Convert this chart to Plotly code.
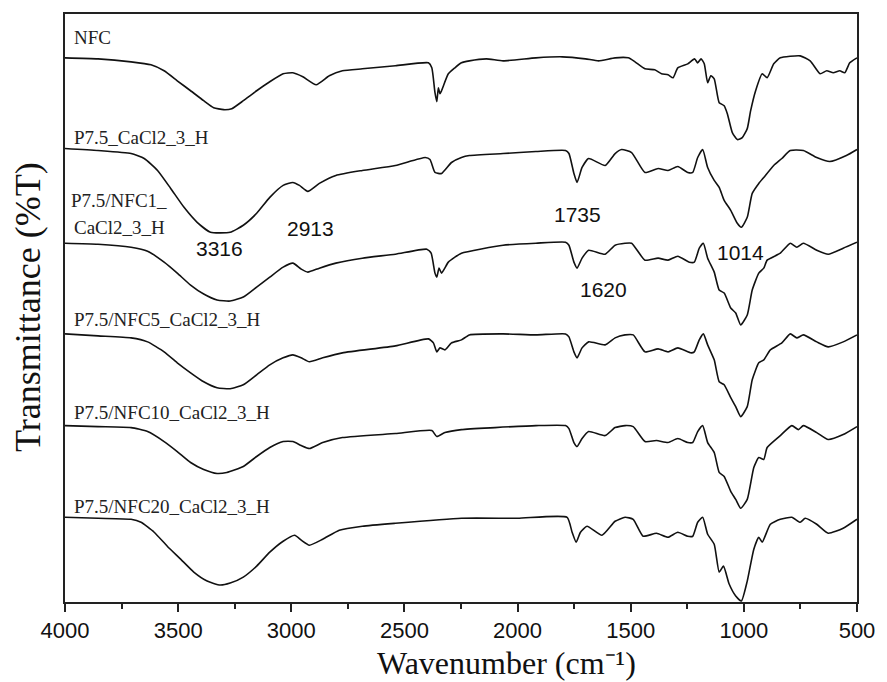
import plotly.graph_objects as go

# ---- data (stacked transmittance, arbitrary units) ----
names = ["NFC", "P7.5_CaCl2_3_H", "P7.5/NFC1_CaCl2_3_H", "P7.5/NFC5_CaCl2_3_H",
         "P7.5/NFC10_CaCl2_3_H", "P7.5/NFC20_CaCl2_3_H"]

wn_nfc = [4000, 3854, 3708, 3620, 3562, 3504, 3445, 3387, 3343, 3299, 3263, 3212, 3153, 3095, 3036, 2993,
          2949, 2890, 2832, 2774, 2686, 2540, 2394, 2379, 2365, 2357, 2350, 2343, 2336, 2306, 2277, 2248,
          2213, 2138, 2064, 1919, 1802, 1700, 1642, 1569, 1511, 1481, 1437, 1394, 1364, 1335, 1313, 1292,
          1248, 1218, 1204, 1189, 1175, 1160, 1146, 1131, 1109, 1087, 1073, 1051, 1029, 1007, 985, 970,
          948, 919, 897, 868, 839, 751, 707, 663, 634, 605, 576, 554, 532, 500]
t_nfc = [545, 544, 541, 538, 532, 522, 512, 502, 495, 493, 494, 502, 512, 521, 529, 530,
         526, 518, 527, 532, 534, 537, 540, 535, 510, 501, 515, 509, 512, 529, 535, 540,
         542, 544, 542, 545, 546, 544, 542, 545, 545, 541, 534, 533, 529, 528, 525, 535,
         539, 544, 540, 544, 539, 520, 527, 524, 500, 497, 489, 470, 463, 465, 474, 492,
         512, 529, 525, 539, 545, 547, 542, 529, 532, 530, 532, 530, 540, 545]

wn_p75 = [4000, 3854, 3708, 3650, 3591, 3533, 3474, 3416, 3357, 3270, 3212, 3153, 3095, 3036, 2993, 2964,
          2927, 2876, 2803, 2686, 2540, 2408, 2387, 2365, 2336, 2292, 2248, 2213, 2064, 1919, 1788, 1773,
          1751, 1737, 1715, 1686, 1613, 1569, 1540, 1496, 1437, 1379, 1335, 1292, 1248, 1226, 1204, 1182,
          1160, 1131, 1109, 1087, 1058, 1029, 1011, 985, 963, 934, 912, 868, 832, 795, 737, 678, 620, 547, 500]
t_p75 = [454, 452, 449, 444, 432, 414, 395, 380, 370, 370, 377, 389, 405, 417, 420, 417,
         411, 419, 427, 432, 437, 445, 443, 430, 429, 440, 445, 447, 449, 451, 452, 449,
         429, 420, 435, 444, 437, 449, 453, 450, 430, 434, 432, 436, 430, 430, 445, 453,
         435, 422, 415, 402, 392, 379, 375, 385, 409, 419, 425, 437, 444, 452, 452, 445, 441, 447, 453]

wn_n1 = [4000, 3854, 3708, 3635, 3562, 3504, 3445, 3387, 3328, 3270, 3212, 3153, 3095, 3036, 2993, 2956,
         2927, 2876, 2803, 2686, 2540, 2401, 2382, 2365, 2357, 2347, 2336, 2306, 2277, 2248, 2064, 1919,
         1788, 1773, 1751, 1737, 1715, 1686, 1613, 1569, 1525, 1496, 1437, 1379, 1335, 1292, 1241, 1219,
         1197, 1179, 1160, 1131, 1109, 1087, 1058, 1036, 1014, 985, 963, 934, 912, 897, 839, 795, 766,
         737, 678, 627, 561, 500]
t_n1 = [359, 358, 355, 351, 340, 329, 317, 308, 302, 301, 305, 315, 325, 335, 339, 333,
        330, 334, 339, 344, 348, 353, 349, 329, 325, 334, 329, 340, 345, 349, 357, 359,
        360, 357, 340, 334, 344, 352, 348, 357, 359, 359, 342, 344, 342, 346, 340, 340,
        354, 359, 344, 330, 312, 309, 294, 289, 277, 287, 312, 329, 334, 342, 349, 359, 355,
        359, 352, 348, 354, 360]

wn_n5 = [4000, 3854, 3708, 3635, 3562, 3504, 3445, 3387, 3328, 3270, 3212, 3153, 3095, 3036, 2993, 2956,
         2920, 2861, 2774, 2540, 2394, 2372, 2357, 2343, 2321, 2292, 2248, 2213, 2064, 1919, 1788, 1773,
         1751, 1737, 1715, 1686, 1613, 1569, 1525, 1489, 1437, 1379, 1335, 1292, 1233, 1219, 1197, 1179,
         1160, 1131, 1109, 1087, 1058, 1036, 1014, 985, 963, 934, 912, 883, 832, 795, 766, 737, 678,
         627, 561, 500]
t_n5 = [268, 266, 264, 260, 250, 239, 229, 220, 214, 213, 217, 227, 237, 244, 247, 244,
        240, 244, 249, 256, 263, 259, 250, 254, 252, 259, 262, 267, 268, 267, 268, 265,
        250, 244, 254, 260, 257, 264, 267, 267, 250, 253, 250, 254, 249, 250, 262, 268,
        257, 242, 220, 217, 204, 195, 185, 195, 222, 239, 242, 252, 259, 268, 264, 267, 260,
        255, 260, 267]

wn_n10 = [4000, 3854, 3708, 3635, 3562, 3504, 3445, 3387, 3328, 3285, 3212, 3153, 3095, 3036, 2993, 2956,
          2920, 2861, 2774, 2540, 2379, 2357, 2321, 2248, 2100, 1919, 1788, 1773, 1751, 1737, 1715, 1686,
          1613, 1569, 1525, 1489, 1437, 1386, 1335, 1292, 1248, 1226, 1204, 1182, 1160, 1131, 1109, 1087,
          1058, 1036, 1014, 985, 956, 934, 912, 897, 839, 788, 759, 737, 678, 627, 561, 500]
t_n10 = [176, 175, 174, 170, 160, 150, 139, 132, 128, 129, 135, 145, 154, 160, 160, 156,
         153, 159, 164, 168, 171, 165, 169, 172, 174, 176, 176, 173, 159, 155, 163, 170,
         166, 174, 176, 175, 160, 161, 159, 163, 159, 159, 170, 176, 159, 149, 129, 125,
         110, 102, 93, 102, 134, 144, 142, 154, 166, 176, 172, 176, 169, 162, 167, 175]

wn_n20 = [4000, 3854, 3708, 3664, 3606, 3548, 3489, 3431, 3372, 3314, 3270, 3212, 3153, 3095, 3036, 2985,
          2956, 2920, 2861, 2788, 2686, 2540, 2248, 2000, 1781, 1759, 1741, 1722, 1693, 1627, 1569, 1525,
          1489, 1445, 1386, 1335, 1292, 1248, 1226, 1204, 1182, 1160, 1131, 1109, 1090, 1065, 1036, 1011,
          985, 956, 934, 919, 883, 839, 788, 751, 729, 678, 627, 561, 500]
t_n20 = [84, 83, 82, 79, 69, 55, 42, 29, 20, 16, 18, 24, 35, 49, 60, 66,
         61, 56, 62, 71, 75, 78, 83, 83, 84, 69, 59, 69, 75, 66, 80, 84,
         82, 65, 68, 64, 69, 65, 65, 79, 84, 67, 57, 29, 35, 17, 5, 0,
         20, 52, 64, 59, 77, 82, 84, 79, 83, 77, 68, 73, 82]

series_x = [wn_nfc, wn_p75, wn_n1, wn_n5, wn_n10, wn_n20]
series_y = [t_nfc, t_p75, t_n1, t_n5, t_n10, t_n20]

# sample-name labels and the level (a.u.) at which each line of text sits
label_lines = [["NFC"], ["P7.5_CaCl2_3_H"], ["P7.5/NFC1_", "CaCl2_3_H"], ["P7.5/NFC5_CaCl2_3_H"],
               ["P7.5/NFC10_CaCl2_3_H"], ["P7.5/NFC20_CaCl2_3_H"]]
label_levels = [[565], [465], [402, 375], [282], [189], [95]]

peak_wn = [3316, 2913, 1735, 1620, 1014]
peak_level = [354, 374, 388, 313, 350]

fig = go.Figure()
for n, xs, ys in zip(names, series_x, series_y):
    fig.add_trace(go.Scatter(x=xs, y=ys, mode="lines", name=n,
                             line=dict(color="#111111", width=1.6, shape="spline", smoothing=0.5),
                             showlegend=False))

serif = "Liberation Serif, Times New Roman, serif"
sans = "Liberation Sans, Arial, sans-serif"

annotations = []
for lines, levels in zip(label_lines, label_levels):
    for i, (txt, lv) in enumerate(zip(lines, levels)):
        annotations.append(dict(x=0.005 if (len(lines) > 1 and i == 0) else 0.009, xref="paper",
                                y=lv, yref="y", text=txt, showarrow=False, xanchor="left",
                                yanchor="middle", font=dict(family=serif, size=19, color="#222222")))
for w, lv in zip(peak_wn, peak_level):
    annotations.append(dict(x=w, y=lv, xref="x", yref="y", text=str(w), showarrow=False,
                            xanchor="center", yanchor="middle",
                            font=dict(family=sans, size=21, color="#111111")))
annotations.append(dict(x=0.558, y=-0.104, xref="paper", yref="paper",
                        text="Wavenumber (cm\u207b\u00b9)", showarrow=False,
                        xanchor="center", yanchor="middle",
                        font=dict(family=serif, size=32, color="#111111")))
annotations.append(dict(x=-0.046, y=0.501, xref="paper", yref="paper", textangle=-90,
                        text="Transmittance (%T)", showarrow=False,
                        xanchor="center", yanchor="middle",
                        font=dict(family=serif, size=36, color="#111111")))

fig.update_layout(
    width=887, height=682,
    margin=dict(l=65, r=23, t=13, b=80),
    paper_bgcolor="white", plot_bgcolor="white",
    annotations=annotations,
    xaxis=dict(range=[4000, 500], tickmode="array", tickvals=[4000, 3500, 3000, 2500, 2000, 1500, 1000, 500],
               ticks="outside", ticklen=8, tickwidth=1.5, tickcolor="#222",
               minor=dict(tickmode="array", tickvals=[3750, 3250, 2750, 2250, 1750, 1250, 750],
                          ticks="outside", ticklen=5, tickwidth=1.5, tickcolor="#222"),
               showline=True, linecolor="#222", linewidth=1.5, mirror=True,
               showgrid=False, zeroline=False,
               tickfont=dict(family=sans, size=22, color="#111111")),
    yaxis=dict(range=[-1, 589], showticklabels=False, ticks="", showgrid=False, zeroline=False,
               showline=True, linecolor="#222", linewidth=1.5, mirror=True),
)

fig.write_html("out.html")
